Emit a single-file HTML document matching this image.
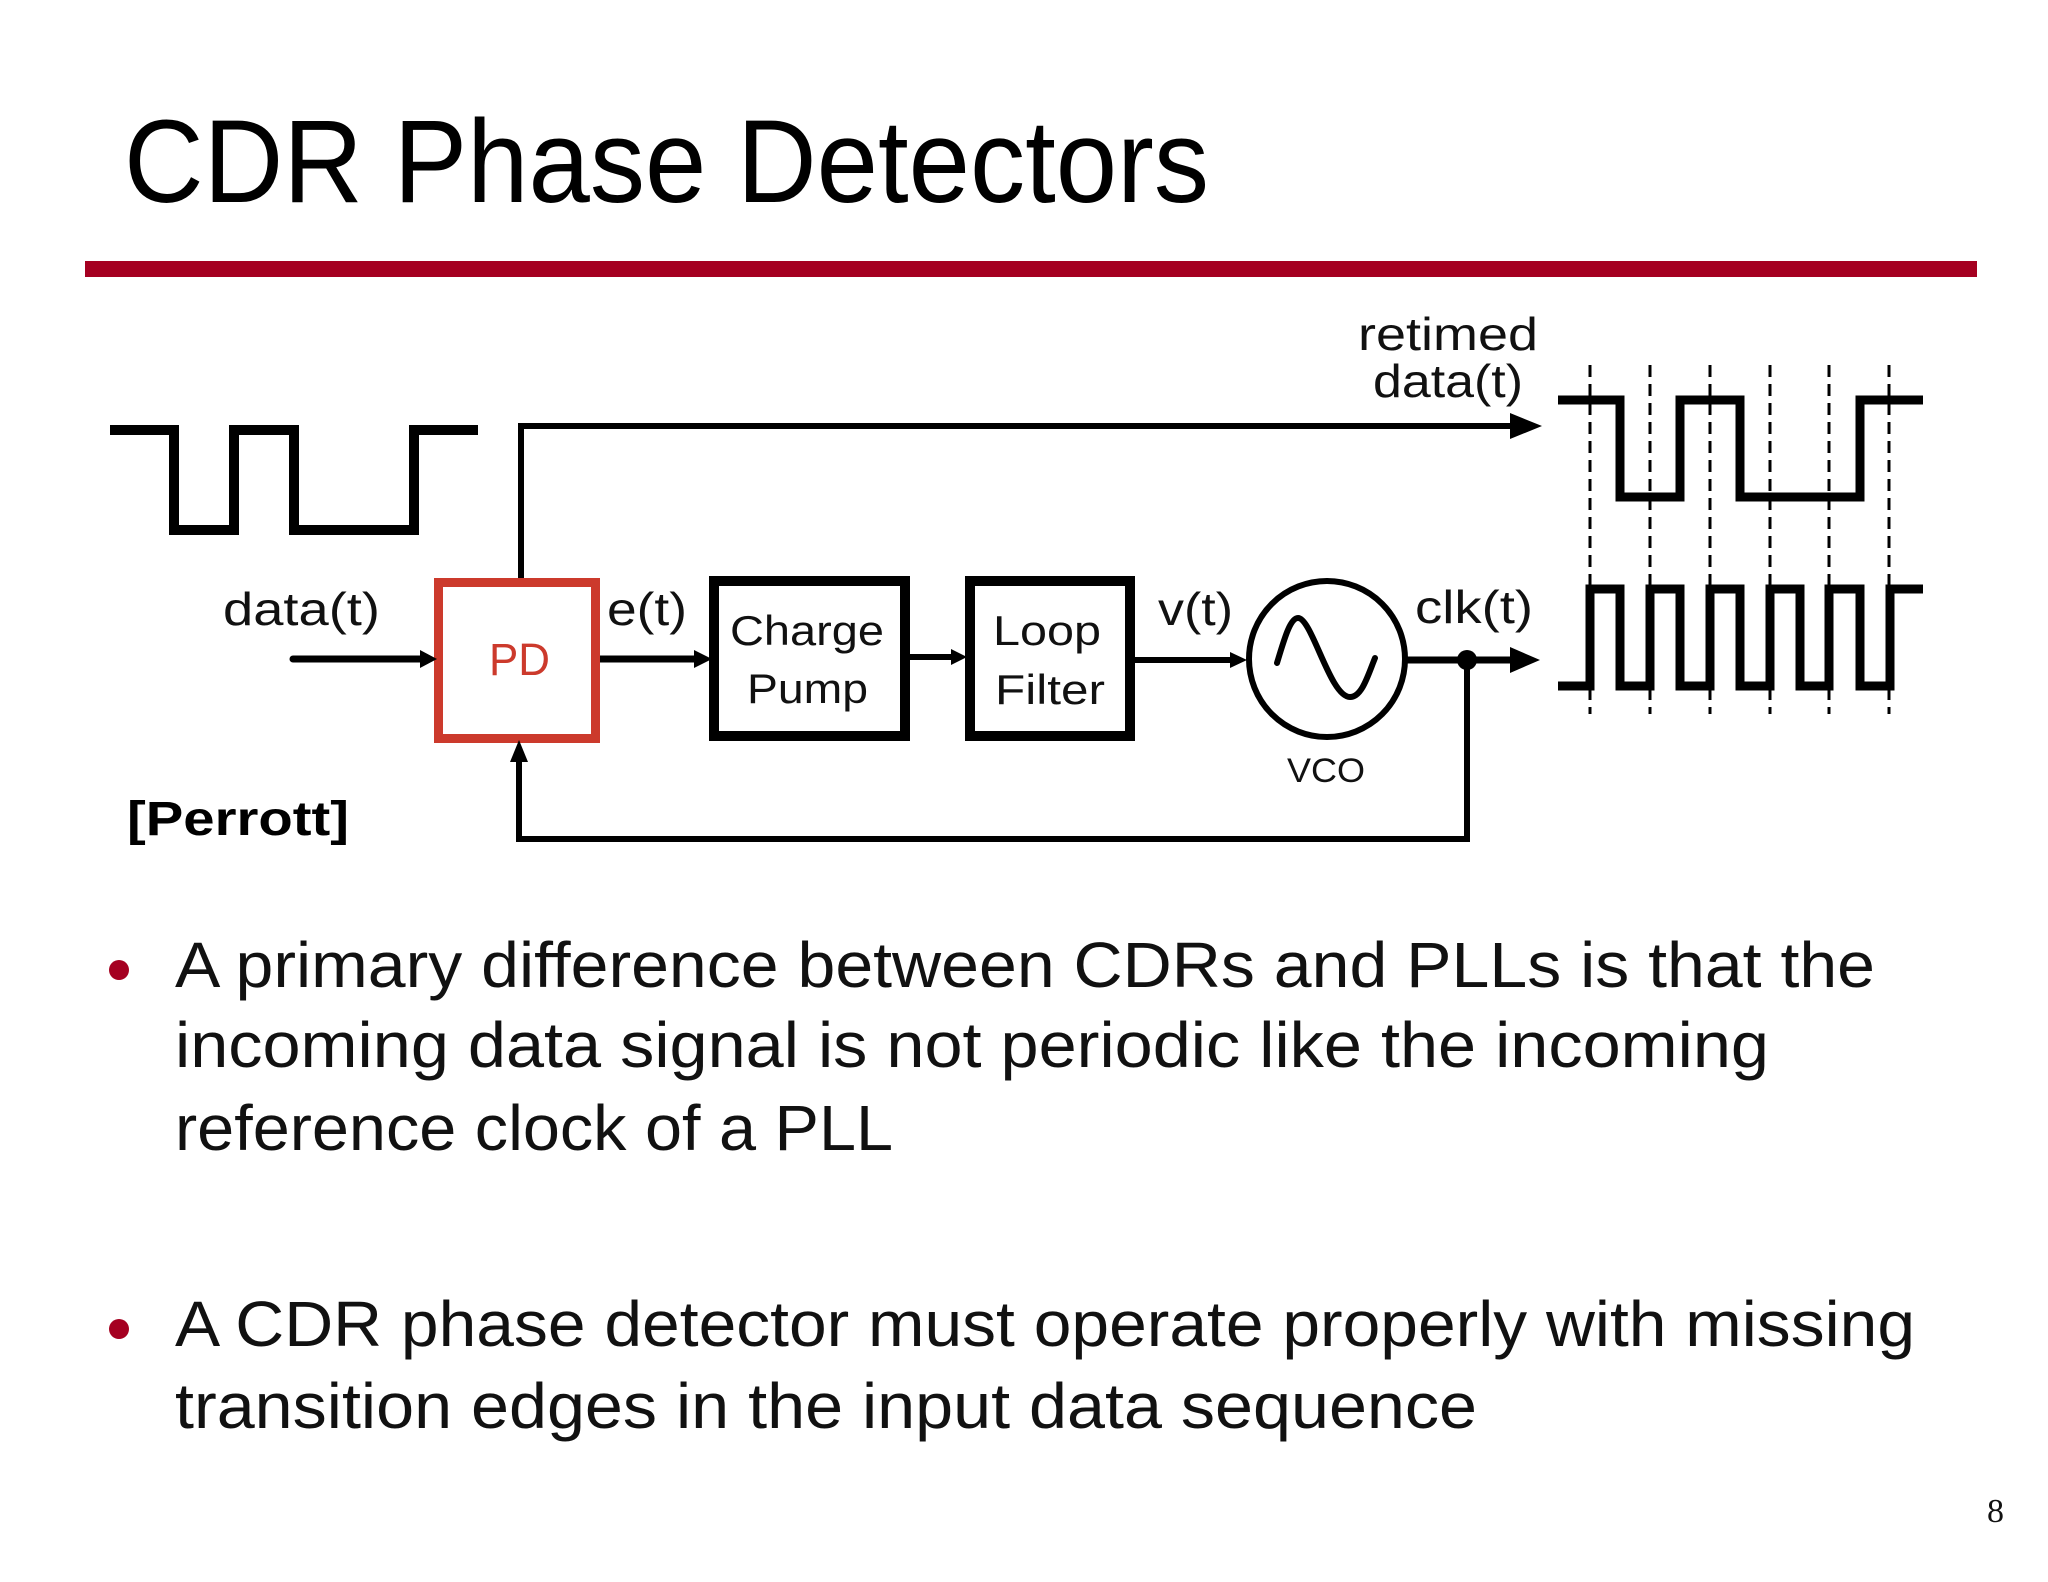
<!DOCTYPE html>
<html><head><meta charset="utf-8"><style>
html,body{margin:0;padding:0;background:#fff;}
svg{display:block;}
</style></head><body>
<svg width="2048" height="1582" viewBox="0 0 2048 1582" xmlns="http://www.w3.org/2000/svg">
<rect width="2048" height="1582" fill="#fff"/>
<text x="124" y="202" font-family="Liberation Sans, sans-serif" font-size="118" fill="#000" textLength="1085" lengthAdjust="spacingAndGlyphs">CDR Phase Detectors</text>
<rect x="85" y="261" width="1892" height="16" fill="#a50021"/>

<g fill="none" stroke="#000" stroke-linejoin="miter">
<!-- input data waveform -->
<polyline points="110,430 174,430 174,530 234,530 234,430 294,430 294,530 414,530 414,430 478,430" stroke-width="10"/>
<!-- retimed waveform -->
<polyline points="1558,400 1620,400 1620,497 1680,497 1680,400 1740,400 1740,497 1860,497 1860,400 1923,400" stroke-width="9"/>
<!-- clock waveform -->
<polyline points="1558,686 1590,686 1590,589 1620,589 1620,686 1650,686 1650,589 1680,589 1680,686 1710,686 1710,589 1740,589 1740,686 1770,686 1770,589 1800,589 1800,686 1829,686 1829,589 1860,589 1860,686 1890,686 1890,589 1923,589" stroke-width="9"/>
<!-- dashed -->
<g stroke-width="3" stroke-dasharray="12,7">
<line x1="1590" y1="365" x2="1590" y2="714"/>
<line x1="1650" y1="365" x2="1650" y2="714"/>
<line x1="1710" y1="365" x2="1710" y2="714"/>
<line x1="1770" y1="365" x2="1770" y2="714"/>
<line x1="1829" y1="365" x2="1829" y2="714"/>
<line x1="1889" y1="365" x2="1889" y2="714"/>
</g>
<!-- retimed path -->
<polyline points="521,582 521,426 1515,426" stroke-width="6"/>
<!-- data in -->
<line x1="293" y1="659" x2="425" y2="659" stroke-width="7" stroke-linecap="round"/>
<!-- e(t) -->
<line x1="600" y1="659" x2="700" y2="659" stroke-width="7"/>
<!-- CP->LF -->
<line x1="910" y1="657" x2="955" y2="657" stroke-width="6"/>
<!-- LF->VCO -->
<line x1="1135" y1="660" x2="1235" y2="660" stroke-width="6"/>
<!-- VCO out -->
<line x1="1407" y1="660" x2="1515" y2="660" stroke-width="7"/>
<!-- feedback -->
<polyline points="1467,660 1467,839 519,839 519,760" stroke-width="6"/>
<!-- boxes -->
<rect x="438.5" y="582.5" width="157" height="156" stroke="#cc3a2c" stroke-width="9"/>
<rect x="714" y="581" width="191" height="155" stroke-width="10"/>
<rect x="970" y="581" width="160" height="155" stroke-width="10"/>
<circle cx="1327" cy="659" r="78" stroke-width="6"/>
<path d="M1277,663 C1284,640 1290,618 1298,618 C1312,618 1330,697 1350,697 C1362,697 1368,675 1375,658" stroke-width="6" stroke-linecap="round"/>
</g>
<g fill="#000">
<polygon points="1542,426 1510,413 1510,439"/>
<polygon points="437,659 420,650 420,668"/>
<polygon points="712,659 694,650 694,668"/>
<polygon points="967,657 951,649 951,665"/>
<polygon points="1247,660 1230,652 1230,668"/>
<polygon points="1540,660 1510,647 1510,673"/>
<polygon points="519,740 510,762 528,762"/>
<circle cx="1467" cy="660" r="10"/>
</g>

<g font-family="Liberation Sans, sans-serif" fill="#111">
<text x="223" y="625" font-size="46" textLength="157" lengthAdjust="spacingAndGlyphs">data(t)</text>
<text x="607" y="625" font-size="46" textLength="80" lengthAdjust="spacingAndGlyphs">e(t)</text>
<text x="1158" y="625" font-size="46" textLength="75" lengthAdjust="spacingAndGlyphs">v(t)</text>
<text x="1415" y="623" font-size="46" textLength="118" lengthAdjust="spacingAndGlyphs">clk(t)</text>
<text x="1358" y="350" font-size="46" textLength="180" lengthAdjust="spacingAndGlyphs">retimed</text>
<text x="1373" y="397" font-size="46" textLength="150" lengthAdjust="spacingAndGlyphs">data(t)</text>
<text x="730" y="645" font-size="42" textLength="154" lengthAdjust="spacingAndGlyphs">Charge</text>
<text x="747" y="703" font-size="42" textLength="121" lengthAdjust="spacingAndGlyphs">Pump</text>
<text x="993" y="645" font-size="42" textLength="108" lengthAdjust="spacingAndGlyphs">Loop</text>
<text x="995" y="704" font-size="42" textLength="110" lengthAdjust="spacingAndGlyphs">Filter</text>
<text x="1287" y="782" font-size="34" textLength="78" lengthAdjust="spacingAndGlyphs">VCO</text>
<text x="489" y="675" font-size="45" fill="#cc3a2c" textLength="61" lengthAdjust="spacingAndGlyphs">PD</text>
<text x="127" y="835" font-size="48" font-weight="bold" fill="#000" textLength="222" lengthAdjust="spacingAndGlyphs">[Perrott]</text>
</g>

<g font-family="Liberation Sans, sans-serif" font-size="64" fill="#111">
<circle cx="119" cy="970" r="10" fill="#a50021"/>
<text x="175" y="987" textLength="1700" lengthAdjust="spacingAndGlyphs">A primary difference between CDRs and PLLs is that the</text>
<text x="175" y="1067" textLength="1594" lengthAdjust="spacingAndGlyphs">incoming data signal is not periodic like the incoming</text>
<text x="175" y="1150" textLength="718" lengthAdjust="spacingAndGlyphs">reference clock of a PLL</text>
<circle cx="119" cy="1329" r="10" fill="#a50021"/>
<text x="175" y="1346" textLength="1740" lengthAdjust="spacingAndGlyphs">A CDR phase detector must operate properly with missing</text>
<text x="175" y="1428" textLength="1302" lengthAdjust="spacingAndGlyphs">transition edges in the input data sequence</text>
</g>
<text x="1987" y="1522" font-family="Liberation Serif, serif" font-size="34" fill="#111">8</text>
</svg>
</body></html>
